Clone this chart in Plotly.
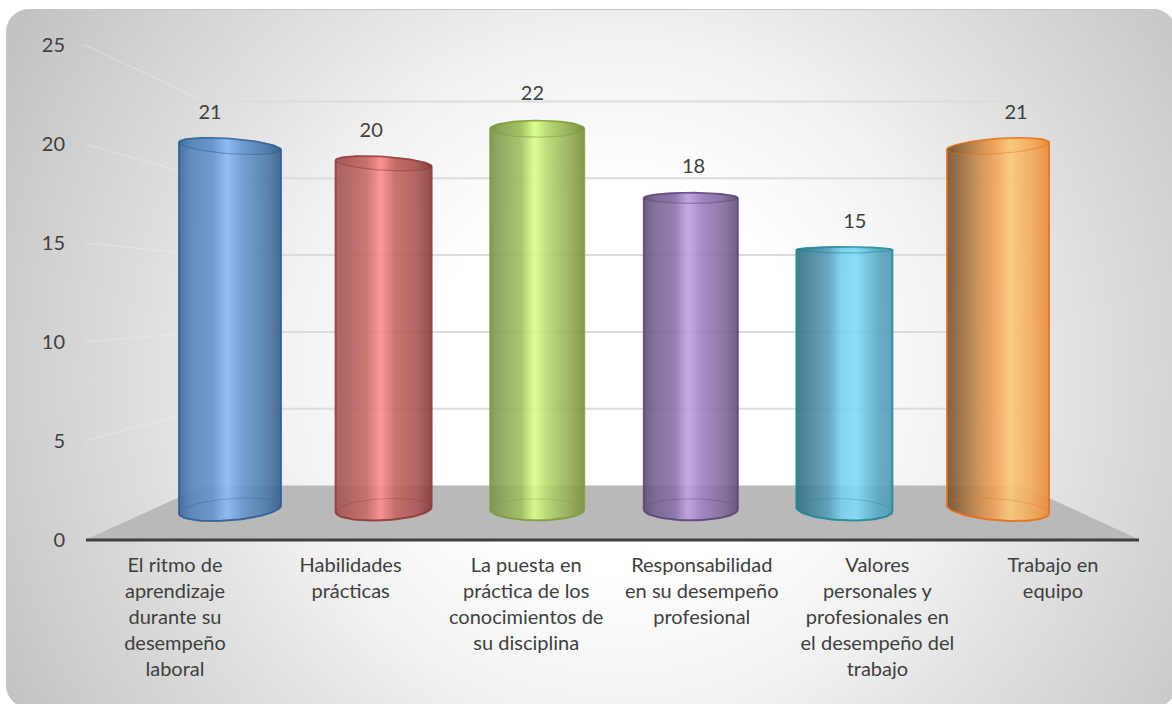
import base64
import numpy as np
import plotly.graph_objects as go

# ---------- data ----------
categories = [
    ["El ritmo de", "aprendizaje", "durante su", "desempeño", "laboral"],
    ["Habilidades", "prácticas"],
    ["La puesta en", "práctica de los", "conocimientos de", "su disciplina"],
    ["Responsabilidad", "en su desempeño", "profesional"],
    ["Valores", "personales y", "profesionales en", "el desempeño del", "trabajo"],
    ["Trabajo en", "equipo"],
]
values = [21, 20, 22, 18, 15, 21]
value_ticks = [0, 5, 10, 15, 20, 25]

# ---------- styles ----------
half_widths = [51, 48, 47, 47, 48, 51]
top_tilts = [3.6, 3, 0, 0, 0, -3.6]
base_tilts = [4, 2.5, 0, 0, -2, -4]
edge_colors = ["#2f5f96", "#8c3a38", "#7f9c3c", "#5a4478", "#1f8798", "#e8701a"]
stops = [0, 0.12, 0.33, 0.47, 0.62, 0.85, 1]
scales = [
    ["#3a6899", "#5484b9", "#6594cb", "#8cbaf6", "#6a98ce", "#4e7bac", "#335e8a"],
    ["#a35552", "#ae5a57", "#c86c69", "#ff8f8d", "#c46663", "#aa5552", "#843a38"],
    ["#78904a", "#8aa455", "#a2c05e", "#dbff8c", "#b7d56f", "#91ac53", "#779038"],
    ["#5e4c78", "#756490", "#8a70a8", "#c0a3e3", "#9d80c0", "#826a99", "#604c7e"],
    ["#306f82", "#418094", "#579fb7", "#78d0ec", "#80dcfa", "#58a8c3", "#5099b4"],
    ["#74502f", "#94673a", "#d08f4e", "#f1a257", "#f8c97b", "#f3a756", "#ea8a35"],
]
TEXT = "#404040"
FONT = "Lato"
FS = 20
W, H = 1172, 704

# pixel scales of the projected axes
BASE_PX, BAR_PX, BAR_X0, BAR_DX = 509.5, 17.3, 230.0, 153.6
LAB_X0, LAB_DX = 175.0, 175.6
DL_X0, DL_DX = 210.0, 161.2
DL_Y21, DL_PX = 113.5, 18.2
TICK0, TICK_PX = 540.0, 19.8
WALL0, WALL_PX = 485.5, 15.36

fig = go.Figure()


def add_px(xs, ys, color, width, dash=None, fill=None):
    fig.add_trace(go.Scatter(x=xs, y=ys, mode="lines",
                             line=dict(color=color, width=width, dash=dash),
                             fill="toself" if fill else "none", fillcolor=fill,
                             hoverinfo="skip", showlegend=False))


def rgba(col, al):
    return f"rgba({int(col[1:3],16)},{int(col[3:5],16)},{int(col[5:7],16)},{al})"


# wall + floor, on the base pixel axes
for v in value_ticks[1:]:
    wy = WALL0 - WALL_PX * v
    fy = TICK0 - TICK_PX * v
    add_px([85, 205], [fy, wy], "rgba(245,245,245,0.55)", 1.1, dash="2px,1px")
    add_px([205, 1020], [wy, wy], "#dcdcdc", 2)
add_px([85, 205, 1022, 1140, 85], [540, 485.5, 485.5, 540, 540], "rgba(0,0,0,0)", 0, fill="#b9b9b9")

# baseline, at value 0 of the tick axis
fig.add_trace(go.Scatter(x=[86, 1139], y=[value_ticks[0]] * 2, xaxis="x", yaxis="y3", mode="lines",
                         line=dict(color=TEXT, width=3), hoverinfo="skip", showlegend=False))

# cylinders
t = np.linspace(0, 2 * np.pi, 73)
for i, v in enumerate(values):
    a = half_widths[i] / BAR_DX
    tt_top = top_tilts[i] / BAR_PX
    tt_bot = base_tilts[i] / BAR_PX
    ry_top = abs(v - 11) * 0.75 / BAR_PX
    ry_bot = 10.8 / BAR_PX
    cs = list(zip(stops, scales[i]))
    cs_a = [[p, rgba(c, 0.9)] for p, c in cs]
    tb = np.linspace(0, np.pi, 37)
    bx = i + a * np.cos(tb)
    by = -ry_bot * np.sin(tb) + tt_bot * np.cos(tb)
    tu = np.linspace(np.pi, 0, 37)
    ux = i + a * np.cos(tu)
    uy = v + ry_top * np.sin(tu) - tt_top * np.cos(tu)
    fig.add_trace(go.Scatter(
        x=np.r_[bx, ux, bx[0]], y=np.r_[by, uy, by[0]], xaxis="x2", yaxis="y2", mode="lines",
        line=dict(color=rgba(edge_colors[i], 0.85), width=2),
        fill="toself", fillgradient=dict(type="horizontal", colorscale=cs_a),
        name=" ".join(categories[i]), hoverinfo="name", showlegend=False))
    ex = i + a * np.cos(t)
    fig.add_trace(go.Scatter(
        x=ex, y=v + ry_top * np.sin(t) - tt_top * np.cos(t), xaxis="x2", yaxis="y2", mode="lines",
        line=dict(color=rgba(edge_colors[i], 0.5), width=1.2),
        fill="toself", fillgradient=dict(type="horizontal", colorscale=[[p, rgba(c, 0.6)] for p, c in cs]),
        hoverinfo="skip", showlegend=False))
    fig.add_trace(go.Scatter(
        x=ex, y=ry_bot * np.sin(t) + tt_bot * np.cos(t), xaxis="x2", yaxis="y2", mode="lines",
        line=dict(color=rgba(edge_colors[i], 0.35), width=1),
        hoverinfo="skip", showlegend=False))

# data labels
fig.add_trace(go.Scatter(x=list(range(6)), y=values, xaxis="x4", yaxis="y4", mode="text",
                         text=[str(v) for v in values], textposition="middle center",
                         textfont=dict(family=FONT, size=FS, color=TEXT),
                         hoverinfo="skip", showlegend=False))

# category labels, one text per line
lx, ly, lt = [], [], []
for i, lines in enumerate(categories):
    for k, s in enumerate(lines):
        lx.append(i)
        ly.append(567 + 26 * k)
        lt.append(s)
fig.add_trace(go.Scatter(x=lx, y=ly, xaxis="x3", yaxis="y", mode="text", text=lt,
                         textposition="middle center",
                         textfont=dict(family=FONT, size=FS, color=TEXT),
                         hoverinfo="skip", showlegend=False))

svg = f"""<svg xmlns='http://www.w3.org/2000/svg' width='{W}' height='{H}'>
<defs><radialGradient id='g' gradientUnits='userSpaceOnUse' cx='620' cy='380' r='750'>
<stop offset='0.25' stop-color='#ffffff'/><stop offset='0.45' stop-color='#f2f2f2'/>
<stop offset='0.6' stop-color='#e2e2e2'/><stop offset='0.8' stop-color='#cfcfcf'/>
<stop offset='0.95' stop-color='#c0c0c0'/><stop offset='1' stop-color='#b8b8b8'/>
</radialGradient></defs>
<rect x='6.5' y='9.5' width='1169' height='698' rx='22' ry='22' fill='url(#g)' stroke='#c8c8c8'/>
</svg>"""
bg = "data:image/svg+xml;base64," + base64.b64encode(svg.encode()).decode()


def hidden(rng, **kw):
    return dict(range=rng, visible=False, fixedrange=True, showgrid=False, zeroline=False, **kw)


fig.update_layout(
    width=W, height=H, margin=dict(l=0, r=0, t=0, b=0),
    paper_bgcolor="white", plot_bgcolor="rgba(0,0,0,0)", showlegend=False,
    images=[dict(source=bg, xref="paper", yref="paper", x=0, y=1, sizex=1, sizey=1,
                 sizing="stretch", xanchor="left", yanchor="top", layer="below")],
    xaxis=hidden([0, W]),
    yaxis=hidden([H, 0]),
    xaxis2=hidden([(0 - BAR_X0) / BAR_DX, (W - BAR_X0) / BAR_DX], overlaying="x"),
    yaxis2=hidden([(BASE_PX - H) / BAR_PX, BASE_PX / BAR_PX], overlaying="y"),
    xaxis3=hidden([(0 - LAB_X0) / LAB_DX, (W - LAB_X0) / LAB_DX], overlaying="x"),
    xaxis4=hidden([(0 - DL_X0) / DL_DX, (W - DL_X0) / DL_DX], overlaying="x"),
    yaxis4=hidden([21 + (DL_Y21 - H) / DL_PX, 21 + DL_Y21 / DL_PX], overlaying="y"),
    yaxis3=dict(range=[(TICK0 - H) / TICK_PX, TICK0 / TICK_PX], overlaying="y", anchor="free",
                position=65 / W, side="left", tickvals=value_ticks, ticks="", showline=False,
                showgrid=False, zeroline=False, fixedrange=True,
                tickfont=dict(family=FONT, size=FS, color=TEXT)),
)
fig.write_html("out.html", config=dict(displayModeBar=False),
               post_script="document.body.style.margin='0';document.body.style.overflow='hidden';")
